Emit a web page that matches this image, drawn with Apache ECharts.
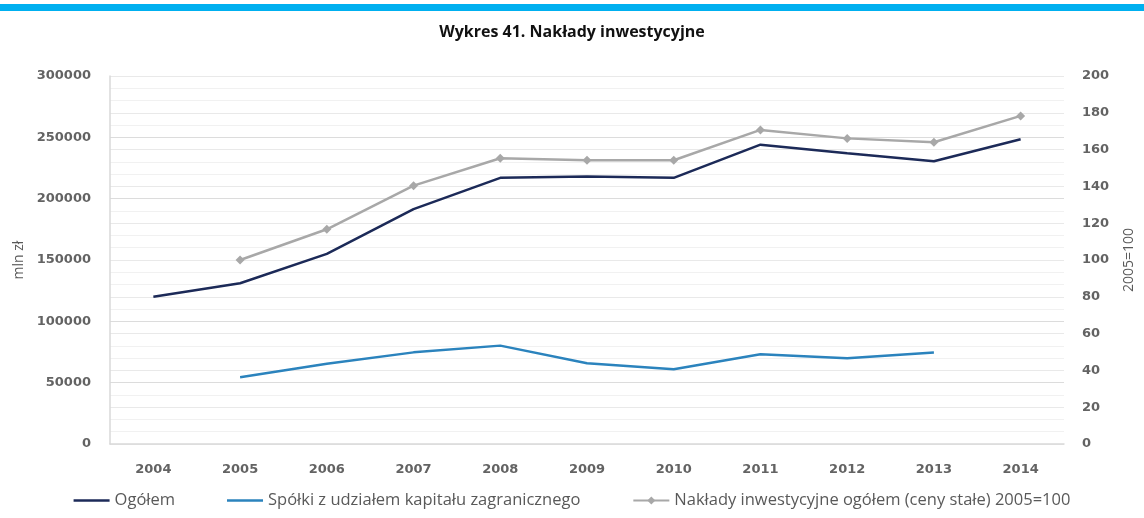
<!DOCTYPE html>
<html>
<head>
<meta charset="utf-8">
<style>
  html, body { margin: 0; padding: 0; background: #ffffff; }
  #chart { width: 1144px; height: 518px; }
</style>
<script src="https://cdn.jsdelivr.net/npm/echarts@6/dist/echarts.min.js"></script>
</head>
<body>
<div id="chart"></div>
<script>
// Lata
const years = ['2004', '2005', '2006', '2007', '2008', '2009', '2010', '2011', '2012', '2013', '2014'];

// Nakłady inwestycyjne ogółem, mln zł
const ogolem = [120000, 131000, 155000, 191500, 217000, 218000, 217000, 244000, 237000, 230500, 248500];

// Spółki z udziałem kapitału zagranicznego, mln zł
const spolki = [null, 54500, 65500, 74700, 80200, 65800, 61000, 73100, 70000, 74500, null];

// Nakłady ogółem w cenach stałych, 2005=100
const cenyStale = [null, 100, 116.7, 140.4, 155.3, 154.2, 154.2, 170.7, 166.1, 164.0, 178.3];

const seriesNames = [
  'Ogółem',
  'Spółki z udziałem kapitału zagranicznego',
  'Nakłady inwestycyjne ogółem (ceny stałe) 2005=100'
];

const axisText = { fontFamily: 'DejaVu Sans', fontWeight: 'bold', fontSize: 13, color: '#636363' };
// plain line used as legend icon for the series drawn without markers
const lineIcon = 'path://M0,0 H36 V2.5 H0 Z';

const chart = echarts.init(document.getElementById('chart'), null, { renderer: 'canvas' });

chart.setOption({
  animation: false,
  backgroundColor: '#ffffff',
  graphic: [{
    type: 'rect',
    left: 0, top: 4,
    shape: { width: 1144, height: 7 },
    style: { fill: '#00b0f0' }
  }],
  title: {
    text: 'Wykres 41. Nakłady inwestycyjne',
    left: 'center',
    top: 19,
    textStyle: { fontFamily: 'Open Sans', fontWeight: 'bold', fontSize: 16, color: '#111111' }
  },
  grid: { left: 110, right: 72, top: 76, bottom: 74, containLabel: false },
  legend: {
    bottom: 4,
    left: 'center',
    itemWidth: 36,
    itemHeight: 10,
    itemGap: 52,
    textStyle: { fontFamily: 'Open Sans', fontSize: 16.5, color: '#595959' },
    data: [
      { name: seriesNames[0], icon: lineIcon },
      { name: seriesNames[1], icon: lineIcon },
      { name: seriesNames[2] }
    ]
  },
  xAxis: {
    type: 'category',
    data: years,
    boundaryGap: true,
    axisLine: { show: true, lineStyle: { color: '#d9d9d9', width: 1.5 } },
    axisTick: { show: false },
    axisLabel: Object.assign({ margin: 19 }, axisText),
    splitLine: { show: false }
  },
  yAxis: [{
    type: 'value',
    min: 0, max: 300000, interval: 50000,
    name: 'mln zł',
    nameLocation: 'middle',
    nameRotate: 90,
    nameGap: 80,
    nameTextStyle: { fontFamily: 'Open Sans', fontSize: 14, color: '#595959' },
    axisLine: { show: true, lineStyle: { color: '#d9d9d9', width: 1.5 } },
    axisTick: { show: false },
    axisLabel: Object.assign({ margin: 19, formatter: (v) => String(v) }, axisText),
    splitLine: { show: true, lineStyle: { color: '#dcdcdc', width: 1 } },
    minorTick: { show: false, splitNumber: 5 },
    minorSplitLine: { show: true, lineStyle: { color: '#f1f1f1', width: 1 } }
  }, {
    type: 'value',
    min: 0, max: 200, interval: 20,
    name: '2005=100',
    nameLocation: 'middle',
    nameRotate: 90,
    nameGap: 58,
    nameTextStyle: { fontFamily: 'Open Sans', fontSize: 14, color: '#595959' },
    axisLine: { show: false },
    axisTick: { show: false },
    axisLabel: Object.assign({ margin: 18, formatter: (v) => String(v) }, axisText),
    splitLine: { show: true, lineStyle: { color: '#e9e9e9', width: 1 } }
  }],
  series: [{
    name: seriesNames[0],
    type: 'line',
    yAxisIndex: 0,
    data: ogolem,
    symbol: 'none',
    lineStyle: { color: '#1c2a58', width: 2.5 },
    itemStyle: { color: '#1c2a58' },
    z: 3
  }, {
    name: seriesNames[1],
    type: 'line',
    yAxisIndex: 0,
    data: spolki,
    symbol: 'none',
    lineStyle: { color: '#2b83bd', width: 2.5 },
    itemStyle: { color: '#2b83bd' },
    z: 3
  }, {
    name: seriesNames[2],
    type: 'line',
    yAxisIndex: 1,
    data: cenyStale,
    symbol: 'diamond',
    symbolSize: 9,
    lineStyle: { color: '#a8a8a8', width: 2.5 },
    itemStyle: { color: '#a8a8a8' },
    z: 2
  }]
});
</script>
</body>
</html>
